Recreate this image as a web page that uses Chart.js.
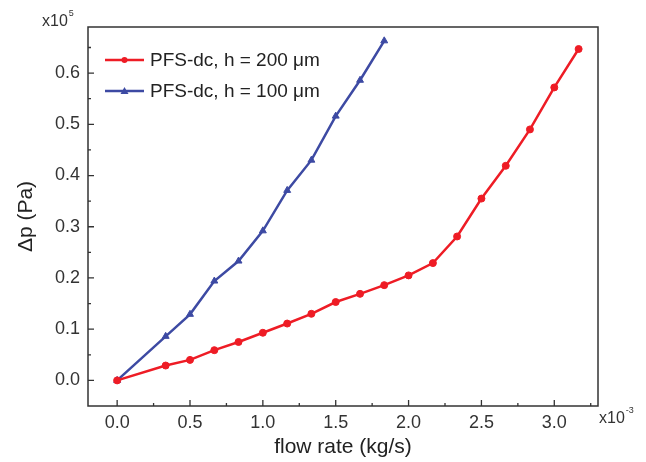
<!DOCTYPE html>
<html>
<head>
<meta charset="utf-8">
<script src="https://cdn.jsdelivr.net/npm/chart.js@4/dist/chart.umd.min.js"></script>
<style>
html,body{margin:0;padding:0;background:#fff;}
#wrap{width:646px;height:462px;position:relative;}
</style>
</head>
<body>
<div id="wrap"><canvas id="c" width="646" height="462"></canvas></div>
<script>
// ---- data ----
const flowRate200 = [0, 0.333, 0.5, 0.667, 0.833, 1.0, 1.167, 1.333, 1.5, 1.667, 1.833, 2.0, 2.167, 2.333, 2.5, 2.667, 2.833, 3.0, 3.167];
const dp200 = [0, 0.029, 0.040, 0.059, 0.075, 0.093, 0.111, 0.130, 0.153, 0.169, 0.186, 0.205, 0.229, 0.281, 0.355, 0.419, 0.490, 0.572, 0.647];
const flowRate100 = [0, 0.333, 0.5, 0.667, 0.833, 1.0, 1.167, 1.333, 1.5, 1.667, 1.833];
const dp100 = [0, 0.086, 0.129, 0.194, 0.233, 0.292, 0.371, 0.430, 0.516, 0.586, 0.663];
const seriesLabels = ['PFS-dc, h = 200 \u03BCm', 'PFS-dc, h = 100 \u03BCm'];
const xTicks = [0, 0.5, 1.0, 1.5, 2.0, 2.5, 3.0];
const yTicks = [0, 0.1, 0.2, 0.3, 0.4, 0.5, 0.6];
const xTitle = 'flow rate (kg/s)';
const yTitle = '\u0394p (Pa)';

const RED = '#ee1c25';
const BLUE = '#3d4aa3';
const AX = '#333333';
const FONT = '"Liberation Sans", Arial, sans-serif';

const toPts = (xs, ys) => xs.map((x, i) => ({x: x, y: ys[i]}));

const extras = {
  id: 'extras',
  afterDraw(chart) {
    const ctx = chart.ctx;
    const a = chart.chartArea;
    const xs = chart.scales.x, ys = chart.scales.y;
    ctx.save();
    // frame
    ctx.strokeStyle = AX;
    ctx.lineWidth = 1.5;
    ctx.strokeRect(a.left, a.top, a.right - a.left, a.bottom - a.top);
    // inward ticks
    ctx.lineWidth = 1.3;
    ctx.beginPath();
    xTicks.forEach((v, i) => {
      const p = xs.getPixelForValue(v);
      ctx.moveTo(p, a.bottom); ctx.lineTo(p, a.bottom - 6);
      const m = xs.getPixelForValue(v + 0.25);
      if (m < a.right) { ctx.moveTo(m, a.bottom); ctx.lineTo(m, a.bottom - 3); }
      if (i === 0) {
        const m0 = xs.getPixelForValue(v - 0.25);
        if (m0 > a.left) { ctx.moveTo(m0, a.bottom); ctx.lineTo(m0, a.bottom - 3); }
      }
    });
    yTicks.forEach((v) => {
      const p = ys.getPixelForValue(v);
      ctx.moveTo(a.left, p); ctx.lineTo(a.left + 6, p);
      const m = ys.getPixelForValue(v + 0.05);
      if (m > a.top) { ctx.moveTo(a.left, m); ctx.lineTo(a.left + 3, m); }
    });
    ctx.stroke();

    // multipliers
    ctx.fillStyle = AX;
    ctx.textBaseline = 'middle';
    ctx.textAlign = 'left';
    ctx.font = '16px ' + FONT;
    ctx.fillText('x10', 42, 22);
    let w = ctx.measureText('x10').width;
    ctx.font = '9px ' + FONT;
    ctx.fillText('5', 42 + w + 1, 14);
    ctx.font = '16px ' + FONT;
    ctx.fillText('x10', 599, 419);
    w = ctx.measureText('x10').width;
    ctx.font = '9px ' + FONT;
    ctx.fillText('-3', 599 + w + 1, 411);

    // legend
    const ds = chart.data.datasets;
    const rows = [60, 91];
    ds.forEach((d, i) => {
      const y = rows[i];
      ctx.strokeStyle = d.borderColor;
      ctx.lineWidth = 2.5;
      ctx.beginPath(); ctx.moveTo(105, y); ctx.lineTo(144, y); ctx.stroke();
      ctx.fillStyle = d.borderColor;
      ctx.beginPath();
      if (d.pointStyle === 'triangle') {
        ctx.moveTo(124.5, y - 4); ctx.lineTo(128.5, y + 3); ctx.lineTo(120.5, y + 3); ctx.closePath();
      } else {
        ctx.arc(124.5, y, 3, 0, Math.PI * 2);
      }
      ctx.fill();
      ctx.fillStyle = '#222';
      ctx.font = '19px ' + FONT;
      ctx.textBaseline = 'middle';
      ctx.fillText(d.label, 150, y + 1);
    });
    ctx.restore();
  }
};

new Chart(document.getElementById('c'), {
  type: 'line',
  data: {
    datasets: [
      {
        label: seriesLabels[0],
        data: toPts(flowRate200, dp200),
        borderColor: RED, backgroundColor: RED,
        borderWidth: 2.5, pointStyle: 'circle', pointRadius: 3.5, pointHoverRadius: 3.5, pointBorderWidth: 1,
        tension: 0
      },
      {
        label: seriesLabels[1],
        data: toPts(flowRate100, dp100),
        borderColor: BLUE, backgroundColor: BLUE,
        borderWidth: 2.5, pointStyle: 'triangle', pointRadius: 4, pointHoverRadius: 4, pointBorderWidth: 1,
        tension: 0
      }
    ]
  },
  options: {
    responsive: false,
    animation: false,
    events: [],
    layout: {padding: {left: 0, top: 27, right: 48, bottom: 0}},
    plugins: {legend: {display: false}, tooltip: {enabled: false}},
    scales: {
      x: {
        type: 'linear', min: -0.2, max: 3.3,
        afterBuildTicks(s) { s.ticks = xTicks.map(v => ({value: v})); },
        afterFit(s) { s.height = 56; },
        grid: {display: false, drawTicks: false},
        border: {display: false},
        ticks: {
          padding: 6, color: AX, maxRotation: 0, autoSkip: false,
          font: {family: FONT, size: 18},
          callback: v => Number(v).toFixed(1)
        },
        title: {display: true, text: xTitle, color: '#222', font: {family: FONT, size: 21}, padding: {top: 0, bottom: 2}}
      },
      y: {
        type: 'linear', min: -0.05, max: 0.69,
        afterBuildTicks(s) { s.ticks = yTicks.map(v => ({value: v})); },
        afterFit(s) { s.width = 88; },
        grid: {display: false, drawTicks: false},
        border: {display: false},
        ticks: {
          padding: 8, color: AX, autoSkip: false,
          font: {family: FONT, size: 18},
          callback: v => Number(v).toFixed(1)
        },
        title: {display: true, text: yTitle, color: '#222', font: {family: FONT, size: 21}, padding: {top: 14, bottom: 0}}
      }
    }
  },
  plugins: [extras]
});
</script>
</body>
</html>
